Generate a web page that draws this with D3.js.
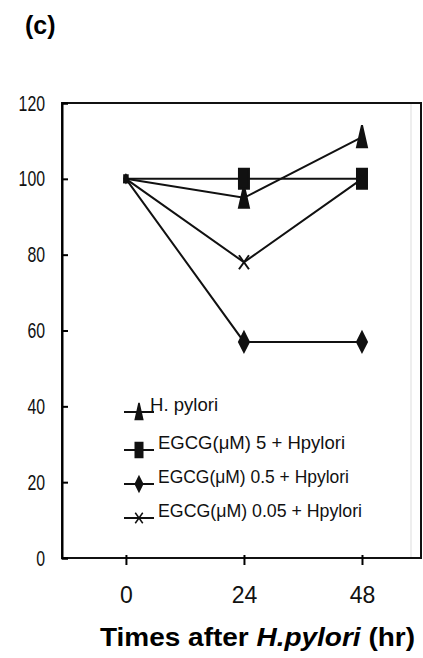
<!DOCTYPE html>
<html>
<head>
<meta charset="utf-8">
<script src="https://cdn.jsdelivr.net/npm/d3@7"></script>
<style>
  body { margin: 0; background: #fff; }
  svg { display: block; }
</style>
</head>
<body>
<svg width="423" height="658"></svg>
<script>
// values (% of control)
const hours = [0, 24, 48];
const hPylori = [100, 95, 111];
const egcg5 = [100, 100, 100];
const egcg05 = [100, 57, 57];
const egcg005 = [100, 78, 100];
const seriesNames = ["H. pylori", "EGCG(\u03bcM) 5 + Hpylori", "EGCG(\u03bcM) 0.5 + Hpylori", "EGCG(\u03bcM) 0.05 + Hpylori"];
const markerKinds = ["triangle", "square", "diamond", "cross"];
const yTicks = [0, 20, 40, 60, 80, 100, 120];

var svg = d3.select("svg");
var pLeft = 62, pRight = 421, pTop = 103, pBottom = 558;

var x = d3.scaleLinear().domain([-13, 60]).range([pLeft, pRight]);
var y = d3.scaleLinear().domain([0, 120]).range([pBottom, pTop]);

// marker shapes (the original looks stretched tall)
function marker(kind, s) {
  s = s || 1;
  var w = 5 * s, h = 10 * s;
  if (kind == "triangle") return "M0," + (-h - 2*s) + "L" + w + "," + h + "L" + (-w) + "," + h + "Z";
  if (kind == "square") return "M" + (-w) + "," + (-h) + "H" + w + "V" + h + "H" + (-w) + "Z";
  if (kind == "diamond") return "M0," + (-h) + "L" + w + ",0L0," + h + "L" + (-w) + ",0Z";
  return "M" + (-w) + "," + (-7*s) + "L" + w + "," + (7*s) + "M" + w + "," + (-7*s) + "L" + (-w) + "," + (7*s);
}

// panel letter
svg.append("text").attr("x", 25).attr("y", 34)
  .style("font-family", "Liberation Sans, Arial").style("font-weight", "bold").style("font-size", "25px")
  .text("(c)");

// faint artifact line inside the box
svg.append("line").attr("x1", 411).attr("x2", 411).attr("y1", pTop).attr("y2", pBottom)
  .style("stroke", "#eee").style("stroke-width", 2);

// frame
svg.append("rect").attr("x", pLeft).attr("y", pTop)
  .attr("width", pRight - pLeft).attr("height", pBottom - pTop)
  .style("fill", "none").style("stroke", "#111").style("stroke-width", 2);

var yAxis = d3.axisLeft(y).tickValues(yTicks).tickSize(-6).tickPadding(17);
var gy = svg.append("g").attr("transform", "translate(" + pLeft + ",0)").call(yAxis);
gy.select(".domain").style("stroke-width", 2);
gy.selectAll(".tick line").style("stroke-width", 2);
gy.selectAll("text")
  .attr("x", -17 / 0.72).attr("transform", "scale(0.72,1)")
  .style("font-family", "Liberation Sans, Arial").style("font-size", "22px").style("fill", "#111");

var xAxis = d3.axisBottom(x).tickValues(hours).tickSize(7).tickPadding(22);
var gx = svg.append("g").attr("transform", "translate(0," + pBottom + ")").call(xAxis);
gx.select(".domain").remove();
gx.selectAll(".tick line").attr("y1", -3).style("stroke-width", 2);
gx.selectAll("text").style("font-family", "Liberation Sans, Arial").style("font-size", "23px").style("fill", "#111");

var title = svg.append("text").attr("x", 100).attr("y", 646)
  .attr("textLength", 315).attr("lengthAdjust", "spacingAndGlyphs")
  .style("font-family", "Liberation Sans, Arial").style("font-weight", "bold").style("font-size", "25px");
title.append("tspan").text("Times after ");
title.append("tspan").style("font-style", "italic").text("H.pylori");
title.append("tspan").text(" (hr)");

var allSeries = [hPylori, egcg5, egcg05, egcg005];
var line = d3.line().x((d, i) => x(hours[i])).y(d => y(d));

allSeries.forEach(function(vals, k) {
  svg.append("path").datum(vals).attr("d", line)
    .style("fill", "none").style("stroke", "#111").style("stroke-width", 2);
  svg.selectAll(".m" + k).data(vals).enter().append("path")
    .attr("class", "m" + k)
    .attr("transform", (d, i) => "translate(" + x(hours[i]) + "," + y(d) + ")")
    .attr("d", (d, i) => marker(markerKinds[k], i == 0 ? 0.35 : 1))
    .style("fill", "#111").style("stroke", "#111").style("stroke-width", 2);
});

// legend
var legY = [412, 450, 484, 518];
var legLen = [68, 187, 191, 204];
seriesNames.forEach(function(name, k) {
  var g = svg.append("g").attr("transform", "translate(139," + legY[k] + ")");
  g.append("line").attr("x1", -15).attr("x2", 15).style("stroke", "#111").style("stroke-width", 2);
  g.append("path").attr("d", marker(markerKinds[k], 0.75)).style("fill", "#111").style("stroke", "#111").style("stroke-width", 1.5);
  g.append("text").attr("x", k == 0 ? 11 : 19).attr("y", -1)
    .attr("textLength", legLen[k]).attr("lengthAdjust", "spacingAndGlyphs")
    .style("font-family", "Liberation Sans, Arial").style("font-size", "18px").style("fill", "#111")
    .text(name);
});
</script>
</body>
</html>
